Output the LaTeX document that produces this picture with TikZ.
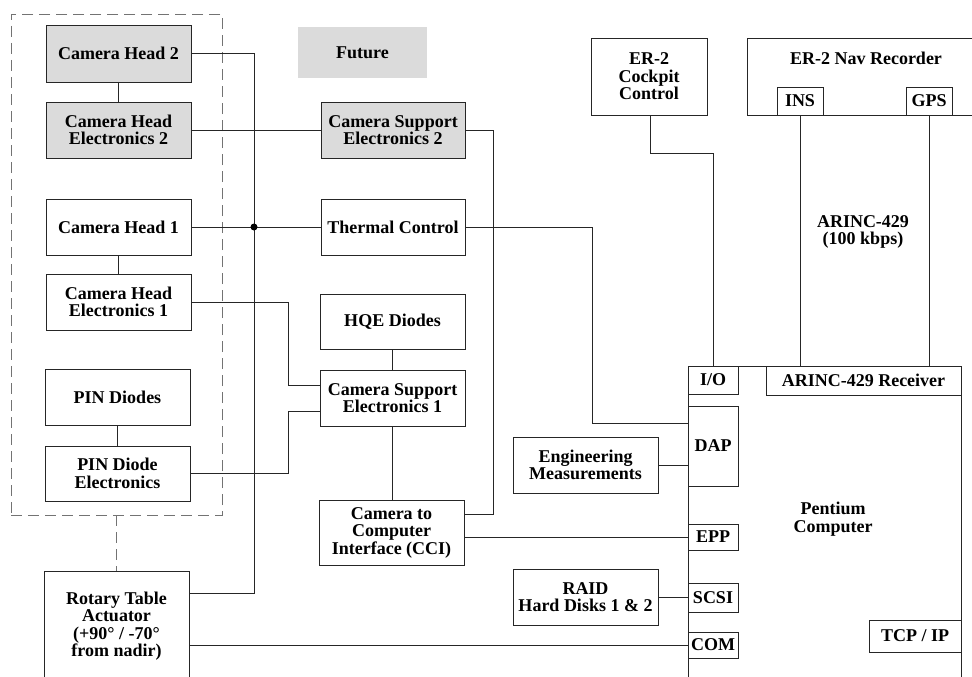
\documentclass[tikz,border=0pt]{standalone}
\usepackage{fontspec}
\setmainfont{Liberation Serif}
\newcommand\mybox[7][]{\node[box,#1,minimum width={(#5-#3)*1pt},minimum height={(#6-#4)*1pt}] (#2) at ({(#3+#5)/2},{(#4+#6)/2}) {#7};}
\begin{document}
\begin{tikzpicture}[x=1pt,y=-1pt,
  font=\fontsize{18}{17.5}\selectfont\bfseries,
  box/.style={draw=black!85, line width=0.8pt, fill=white, inner sep=0pt, outer sep=0pt, align=center},
  shaded/.style={fill=black!14},
  conn/.style={draw=black!85, line width=0.8pt},
  grpbox/.style={draw=black!55, line width=0.8pt, dash pattern=on 11pt off 6pt, fill=none},
  dashconn/.style={draw=black!55, line width=0.8pt, dash pattern=on 11pt off 6pt}]
\useasboundingbox (0,0) rectangle (972,677);
\clip (0,0) rectangle (972,677);
\fill[white] (0,0) rectangle (972,677);

% group
\mybox[grpbox]{grp}{11}{14}{222}{515}{}
% left column
\mybox[shaded]{ch2}{46}{25}{191}{82}{Camera Head 2}
\mybox[shaded]{che2}{46}{102}{191}{158}{Camera Head\\Electronics 2}
\mybox{ch1}{46}{199}{191}{255}{Camera Head 1}
\mybox{che1}{46}{274}{191}{330}{Camera Head\\Electronics 1}
\mybox{pin}{45}{369}{190}{425}{PIN Diodes}
\mybox{pde}{45}{446}{190}{501}{PIN Diode\\Electronics}
\mybox{rot}{44}{571}{189}{681}{Rotary Table\\Actuator\\(+90° / -70°\\from nadir)}
% middle column
\mybox[shaded,draw=none]{fut}{298}{27}{427}{78}{Future}
\mybox[shaded]{cse2}{321}{102}{465}{158}{Camera Support\\Electronics 2}
\mybox{tc}{321}{199}{465}{255}{Thermal Control}
\mybox{hqe}{320}{294}{465}{349}{HQE Diodes}
\mybox{cse1}{320}{370}{465}{426}{Camera Support\\Electronics 1}
\mybox{cci}{319}{500}{464}{565}{Camera to\\Computer\\Interface (CCI)}
\mybox{em}{513}{437}{658}{493}{Engineering\\Measurements}
\mybox{raid}{513}{569}{658}{625}{RAID\\Hard Disks 1 \& 2}
% right part
\mybox{cock}{591}{38}{707}{115}{ER-2\\Cockpit\\Control}
\mybox{nav}{747}{38}{990}{115}{}
\node (navlbl) at (866,58) {ER-2 Nav Recorder};
\mybox{ins}{777}{87}{823}{115}{INS}
\mybox{gps}{906}{87}{952}{115}{GPS}
\node[align=center] (arlbl) at (863,232) {ARINC-429\\(100 kbps)};
\mybox{pc}{688}{366}{961}{700}{}
\node[align=center] (pclbl) at (833,519) {Pentium\\Computer};
\mybox{io}{688}{366}{738}{394}{I/O}
\mybox{arinc}{766}{366}{961}{395}{ARINC-429 Receiver}
\mybox{dap}{688}{406}{738}{486}{DAP}
\mybox{epp}{688}{524}{738}{550}{EPP}
\mybox{scsi}{688}{583}{738}{612}{SCSI}
\mybox{com}{688}{632}{738}{658}{COM}
\mybox{tcp}{869}{620}{961}{652}{TCP / IP}

% connectors
\coordinate (j1) at (254,593);
\draw[conn] (ch2.east) -| (j1) -- (j1 -| rot.east);
\draw[conn] (ch1.east) -- (tc.west);
\fill[black] (ch1.east -| j1) circle (3.5);
\draw[conn] (che2.east) -- (cse2.west);
\draw[conn] (ch2.south) -- (che2.north);
\draw[conn] (ch1.south) -- (che1.north);
\draw[conn] (pin.south) -- (pde.north);
\draw[dashconn] (grp.south) -- (rot.north);
\draw[conn] (hqe.south) -- (cse1.north);
\draw[conn] (cse1.south) -- (cse1.south |- cci.north);
\coordinate (k1) at (288,385);
\draw[conn] (che1.east) -| (k1) -- (k1 -| cse1.west);
\coordinate (k2) at (288,411);
\draw[conn] (pde.east) -| (k2) -- (k2 -| cse1.west);
\coordinate (k3) at (493,514);
\draw[conn] (cse2.east) -| (k3) -- (k3 -| cci.east);
\draw[conn] (epp.west -| cci.east) -- (epp.west);
\coordinate (k4) at (592,423);
\draw[conn] (tc.east) -| (k4) -- (k4 -| dap.west);
\draw[conn] (em.east) -- (em.east -| dap.west);
\draw[conn] (raid.east) -- (raid.east -| scsi.west);
\draw[conn] (com.west -| rot.east) -- (com.west);
\coordinate (k5) at (650,153);
\draw[conn] (cock.south -| k5) -- (k5) -| (io.north);
\draw[conn] (ins.south) -- (ins.south |- arinc.north);
\draw[conn] (gps.south) -- (gps.south |- arinc.north);
\end{tikzpicture}
\end{document}
